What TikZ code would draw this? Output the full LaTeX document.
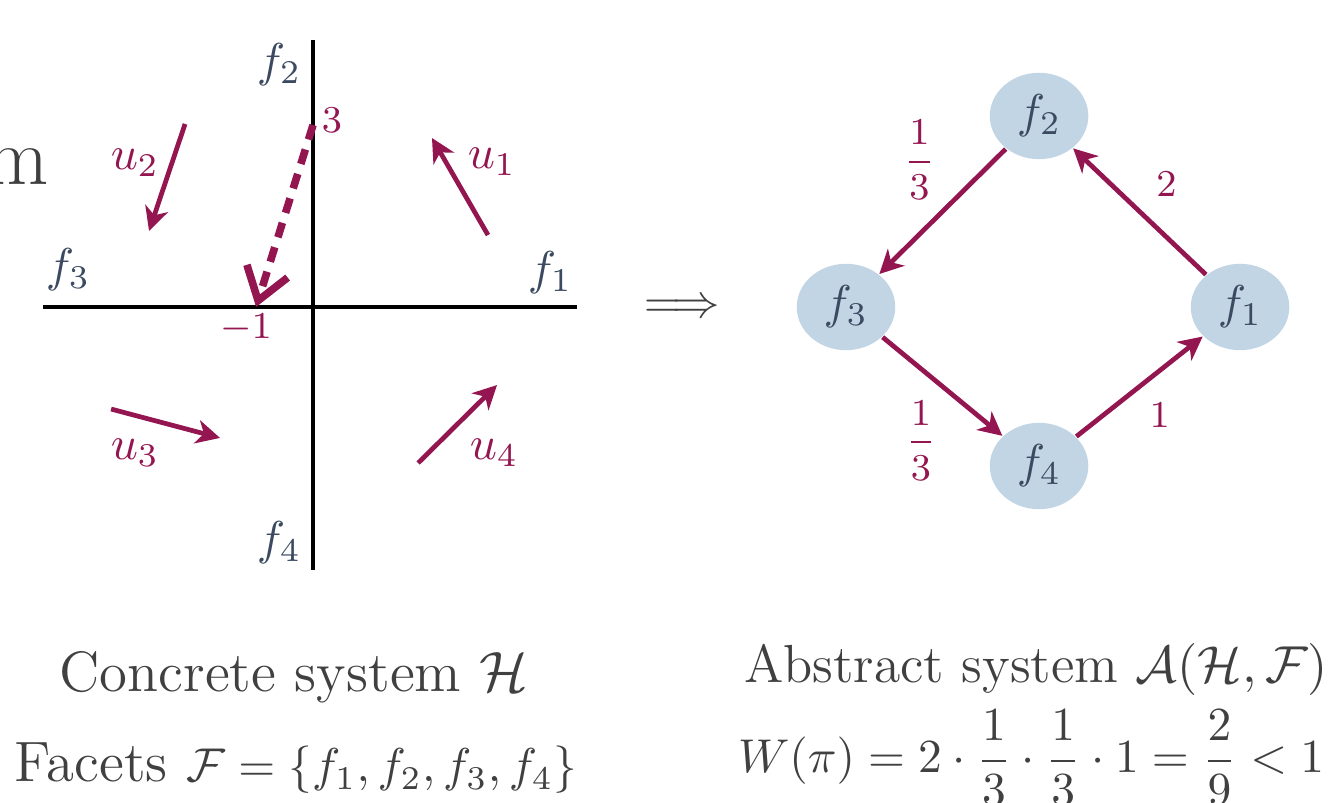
\documentclass[tikz,border=0pt]{standalone}
\usepackage{amsmath}
\usetikzlibrary{arrows.meta,shapes.geometric}
\definecolor{plum}{HTML}{941651}
\definecolor{slate}{HTML}{3B4A60}
\definecolor{nodeblue}{HTML}{C1D5E5}
\definecolor{textgray}{HTML}{404040}
\begin{document}
\begin{tikzpicture}[
    axis/.style={line width=1pt, black},
    facet/.style={ellipse, fill=nodeblue, text=slate, minimum width=0.73cm, minimum height=0.64cm, inner sep=0pt},
    flow/.style={-{Stealth[length=5pt,width=5pt,inset=1.5pt]}, line width=1pt, plum},
    lbl/.style={text=plum, font=\footnotesize},
    caption/.style={text=textgray, font=\large, anchor=base}
]
    \useasboundingbox (-2.319,-3.667) rectangle (7.600,2.274);

    % cropped title
    \node[text=textgray, anchor=base east, inner sep=0pt] (title) at (-1.948,0.904) {\LARGE m};

    % Concrete system: axes
    \draw[axis] (-2.0,0) -- (1.956,0);
    \draw[axis] (0,1.978) -- (0,-1.948);
    \node[text=slate] (a1) at (1.756,0.252) {$f_1$};
    \node[text=slate] (a2) at (-0.252,1.793) {$f_2$};
    \node[text=slate] (a3) at (-1.815,0.274) {$f_3$};
    \node[text=slate] (a4) at (-0.252,-1.748) {$f_4$};

    % vector field
    \draw[flow] (1.296,0.533) -- (0.881,1.252);
    \draw[flow] (-0.948,1.356) -- (-1.215,0.563);
    \draw[flow] (-1.496,-0.756) -- (-0.689,-0.970);
    \draw[flow] (0.778,-1.156) -- (1.363,-0.578);
    \node[text=plum] (u1) at (1.326,1.074) {$u_1$};
    \node[text=plum] (u2) at (-1.319,1.067) {$u_2$};
    \node[text=plum] (u3) at (-1.319,-1.081) {$u_3$};
    \node[text=plum] (u4) at (1.341,-1.081) {$u_4$};

    % jump from f2 to f3
    \coordinate (hit) at (0,1.348);
    \coordinate (land) at (-0.422,0);
    \draw[plum, line width=1.6pt, dash pattern=on 3.2pt off 2.2pt,
          -{Straight Barb[length=6.5pt,width=9pt]}] (hit) -- (land);
    \node[lbl] (three) at (0.141,1.385) {$3$};
    \node[lbl] (minus) at (-0.496,-0.156) {$-1$};

    % implies
    \node[text=textgray] (implies) at (2.733,-0.015) {$\Longrightarrow$};

    % Abstract system
    \node[facet] (f1) at (6.867,0) {$f_1$};
    \node[facet] (f2) at (5.378,1.415) {$f_2$};
    \node[facet] (f3) at (3.948,0) {$f_3$};
    \node[facet] (f4) at (5.378,-1.178) {$f_4$};

    \draw[flow] (f2) -- node[lbl, xshift=-0.17cm, yshift=0.38cm] {$\dfrac{1}{3}$} (f3);
    \draw[flow] (f1) -- node[lbl, xshift=0.2cm, yshift=0.2cm] {$2$} (f2);
    \draw[flow] (f3) -- node[lbl, xshift=-0.16cm, yshift=-0.4cm] {$\dfrac{1}{3}$} (f4);
    \draw[flow] (f4) -- node[lbl, xshift=0.15cm, yshift=-0.21cm] {$1$} (f1);

    % captions
    \node[caption] (concrete) at (-0.141,-2.852) {Concrete system $\mathcal{H}$};
    \node[caption] (facets) at (-0.126,-3.518) {Facets {\normalsize $\mathcal{F}=\{f_1,f_2,f_3,f_4\}$}};
    \node[caption, font=\fontsize{11.3}{14}\selectfont] (abstract) at (5.356,-2.778) {Abstract system $\mathcal{A}(\mathcal{H},\mathcal{F})$};
    \node[caption, font=\normalsize] (weight) at (5.319,-3.452) {$W(\pi)=2\cdot\dfrac{1}{3}\cdot\dfrac{1}{3}\cdot1=\dfrac{2}{9}<1$};
\end{tikzpicture}
\end{document}
